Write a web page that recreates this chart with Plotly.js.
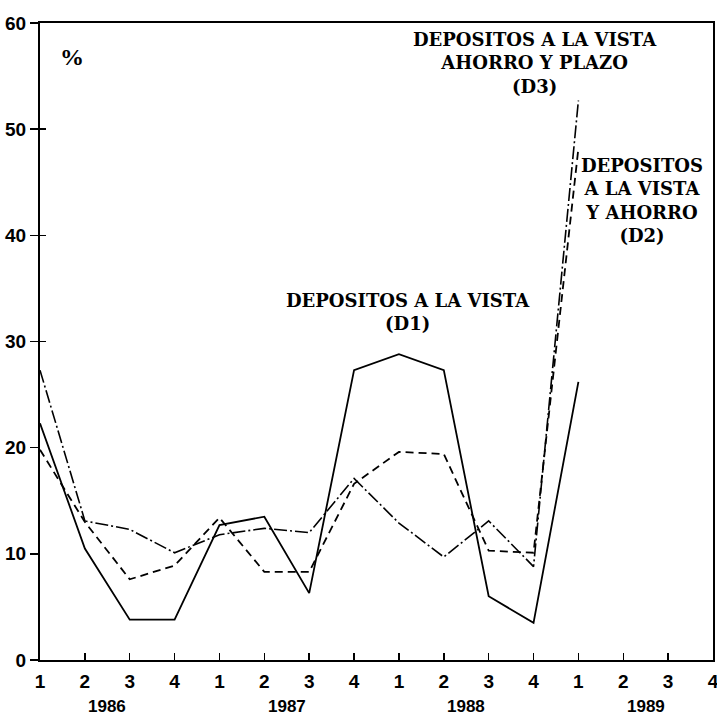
<!DOCTYPE html>
<html>
<head>
<meta charset="utf-8">
<script src="https://cdn.plot.ly/plotly-3.0.1.min.js"></script>
<style>html,body{margin:0;padding:0;background:#fff;}#chart{width:717px;height:722px;}</style>
</head>
<body>
<div id="chart"></div>
<script>
// Quarter tick labels (1986 Q1 .. 1989 Q4)
const quarterLabels = ['1','2','3','4','1','2','3','4','1','2','3','4','1','2','3','4'];
const years = ['1986','1987','1988','1989'];
const yTicks = [0,10,20,30,40,50,60];

// D1: Depósitos a la vista (solid)
const d1 = [22.3, 10.5, 3.8, 3.8, 12.7, 13.5, 6.3, 27.3, 28.8, 27.3, 6.0, 3.5, 26.2];
// D2: Depósitos a la vista y ahorro (dashed)
const d2 = [19.8, 13.0, 7.6, 8.9, 13.4, 8.3, 8.3, 16.6, 19.6, 19.4, 10.3, 10.1, 48.2];
// D3: Depósitos a la vista, ahorro y plazo (dash-dot)
const d3 = [27.3, 13.1, 12.3, 10.1, 11.8, 12.4, 12.0, 17.1, 12.9, 9.7, 13.1, 8.8, 52.7];

const idx = arr => arr.map((_, i) => i);

const traces = [
  {x: idx(d1), y: d1, mode: 'lines', line: {color: '#000', width: 1.8}},
  {x: idx(d2), y: d2, mode: 'lines', line: {color: '#000', width: 1.8, dash: '8px,5px'}},
  {x: idx(d3), y: d3, mode: 'lines', line: {color: '#000', width: 1.6, dash: '13px,3px,2px,3px'}}
];

const L = 40, T = 23, W = 673, H = 637;
const px = x => (x - L) / W;
const py = y => (T + H - y) / H;
const serif = {family: 'DejaVu Serif, serif', size: 18, color: '#000', weight: 'bold'};
const narrow = 'Liberation Sans Narrow, Arial Narrow, sans-serif';

function label(text, x, y) {
  return {text: text, xref: 'paper', yref: 'paper', x: px(x), y: py(y),
          xanchor: 'center', yanchor: 'middle', align: 'center', showarrow: false, font: serif};
}

const annotations = [
  label('DEPOSITOS A LA VISTA<br>AHORRO Y PLAZO<br>(D3)', 535, 63),
  label('DEPOSITOS<br>A LA VISTA<br>Y AHORRO<br>(D2)', 642, 200),
  label('DEPOSITOS A LA VISTA<br>(D1)', 408, 312),
  {text: '%', xref: 'paper', yref: 'paper', x: px(72), y: py(57), xanchor: 'center', yanchor: 'middle',
   showarrow: false, font: {family: 'Liberation Serif, serif', size: 24, color: '#000', weight: 'bold'}}
];
years.forEach((yr, i) => {
  annotations.push({text: yr, xref: 'x', yref: 'paper', x: i * 4 + 1.5, y: py(706),
    xanchor: 'center', yanchor: 'middle', showarrow: false,
    font: {family: narrow, size: 17, color: '#000', weight: 'bold'}});
});

const layout = {
  width: 717, height: 722,
  margin: {l: L, r: 717 - L - W, t: T, b: 722 - T - H, pad: 0},
  paper_bgcolor: '#fff', plot_bgcolor: '#fff',
  showlegend: false,
  xaxis: {
    range: [0, 15], tickvals: idx(quarterLabels), ticktext: quarterLabels,
    ticks: 'inside', ticklen: 7, tickwidth: 1.5, tickcolor: '#000',
    showline: true, linecolor: '#000', linewidth: 2, mirror: true,
    showgrid: false, zeroline: false, ticklabelstandoff: 3, ticklabeloverflow: 'allow',
    tickfont: {family: narrow, size: 19, color: '#000', weight: 'bold'}
  },
  yaxis: {
    range: [0, 60], tickvals: yTicks,
    ticks: 'outside', ticklen: 8, tickwidth: 1.5, tickcolor: '#000',
    showline: true, linecolor: '#000', linewidth: 2, mirror: true,
    showgrid: false, zeroline: false,
    tickfont: {family: narrow, size: 19, color: '#000', weight: 'bold'}
  },
  yaxis2: {
    overlaying: 'y', side: 'left', range: [0, 60], tickvals: [30, 40, 50],
    ticks: 'inside', ticklen: 6, tickwidth: 1.5, tickcolor: '#000',
    showticklabels: false, showline: false, showgrid: false, zeroline: false
  },
  annotations: annotations
};

// invisible trace to activate the crossing-tick overlay axis
traces.push({x: [0], y: [0], yaxis: 'y2', mode: 'markers', marker: {opacity: 0}, hoverinfo: 'skip'});

Plotly.newPlot('chart', traces, layout, {staticPlot: true});
</script>
</body>
</html>
